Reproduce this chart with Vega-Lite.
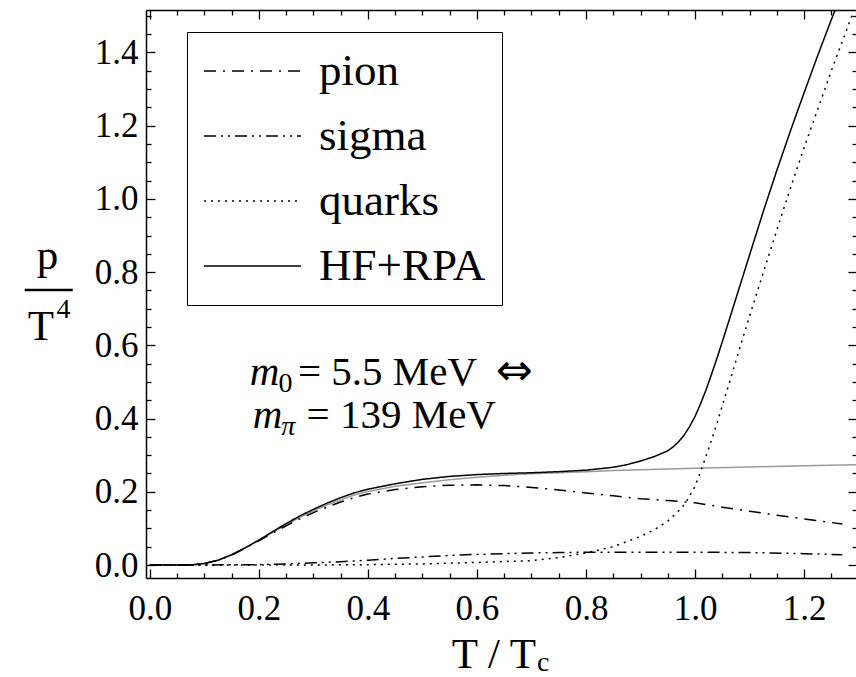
{
  "$schema": "https://vega.github.io/schema/vega-lite/v6.json",
  "width": 711,
  "height": 568,
  "autosize": {"type": "none"},
  "padding": {"left": 146, "top": 10, "right": 0, "bottom": 99},
  "background": "white",
  "config": {"view": {"stroke": null}, "axis": {"grid": false}, "font": "Liberation Serif"},
  "datasets": {
    "curves": [
      {"T": 0, "p": 0, "series": "HF+RPA"}, {"T": 0.05, "p": 0, "series": "HF+RPA"}, {"T": 0.08, "p": 0.001, "series": "HF+RPA"}, {"T": 0.1, "p": 0.004, "series": "HF+RPA"}, {"T": 0.125, "p": 0.013, "series": "HF+RPA"}, {"T": 0.15, "p": 0.028, "series": "HF+RPA"}, {"T": 0.175, "p": 0.047, "series": "HF+RPA"}, {"T": 0.2, "p": 0.068, "series": "HF+RPA"}, {"T": 0.225, "p": 0.091, "series": "HF+RPA"}, {"T": 0.25, "p": 0.113, "series": "HF+RPA"}, {"T": 0.275, "p": 0.134, "series": "HF+RPA"}, {"T": 0.3, "p": 0.152, "series": "HF+RPA"}, {"T": 0.325, "p": 0.169, "series": "HF+RPA"}, {"T": 0.35, "p": 0.184, "series": "HF+RPA"}, {"T": 0.375, "p": 0.197, "series": "HF+RPA"}, {"T": 0.4, "p": 0.207, "series": "HF+RPA"}, {"T": 0.45, "p": 0.222, "series": "HF+RPA"}, {"T": 0.5, "p": 0.234, "series": "HF+RPA"}, {"T": 0.55, "p": 0.242, "series": "HF+RPA"}, {"T": 0.6, "p": 0.247, "series": "HF+RPA"}, {"T": 0.65, "p": 0.25, "series": "HF+RPA"}, {"T": 0.7, "p": 0.252, "series": "HF+RPA"}, {"T": 0.75, "p": 0.255, "series": "HF+RPA"}, {"T": 0.8, "p": 0.259, "series": "HF+RPA"}, {"T": 0.85, "p": 0.267, "series": "HF+RPA"}, {"T": 0.875, "p": 0.274, "series": "HF+RPA"}, {"T": 0.9, "p": 0.284, "series": "HF+RPA"}, {"T": 0.925, "p": 0.296, "series": "HF+RPA"}, {"T": 0.95, "p": 0.312, "series": "HF+RPA"}, {"T": 0.96, "p": 0.323, "series": "HF+RPA"}, {"T": 0.97, "p": 0.337, "series": "HF+RPA"}, {"T": 0.98, "p": 0.355, "series": "HF+RPA"}, {"T": 0.99, "p": 0.378, "series": "HF+RPA"}, {"T": 1.0, "p": 0.406, "series": "HF+RPA"}, {"T": 1.01, "p": 0.44, "series": "HF+RPA"}, {"T": 1.02, "p": 0.478, "series": "HF+RPA"}, {"T": 1.03, "p": 0.52, "series": "HF+RPA"}, {"T": 1.04, "p": 0.564, "series": "HF+RPA"}, {"T": 1.05, "p": 0.61, "series": "HF+RPA"}, {"T": 1.06, "p": 0.657, "series": "HF+RPA"}, {"T": 1.08, "p": 0.752, "series": "HF+RPA"}, {"T": 1.1, "p": 0.847, "series": "HF+RPA"}, {"T": 1.125, "p": 0.965, "series": "HF+RPA"}, {"T": 1.15, "p": 1.078, "series": "HF+RPA"}, {"T": 1.175, "p": 1.186, "series": "HF+RPA"}, {"T": 1.2, "p": 1.29, "series": "HF+RPA"}, {"T": 1.225, "p": 1.392, "series": "HF+RPA"}, {"T": 1.25, "p": 1.49, "series": "HF+RPA"}, {"T": 1.257, "p": 1.516, "series": "HF+RPA"},

      {"T": 0, "p": 0, "series": "pion"}, {"T": 0.05, "p": 0, "series": "pion"}, {"T": 0.08, "p": 0.001, "series": "pion"}, {"T": 0.1, "p": 0.004, "series": "pion"}, {"T": 0.125, "p": 0.013, "series": "pion"}, {"T": 0.15, "p": 0.027, "series": "pion"}, {"T": 0.175, "p": 0.046, "series": "pion"}, {"T": 0.2, "p": 0.066, "series": "pion"}, {"T": 0.225, "p": 0.087, "series": "pion"}, {"T": 0.25, "p": 0.107, "series": "pion"}, {"T": 0.275, "p": 0.126, "series": "pion"}, {"T": 0.3, "p": 0.143, "series": "pion"}, {"T": 0.325, "p": 0.158, "series": "pion"}, {"T": 0.35, "p": 0.172, "series": "pion"}, {"T": 0.375, "p": 0.184, "series": "pion"}, {"T": 0.4, "p": 0.194, "series": "pion"}, {"T": 0.45, "p": 0.206, "series": "pion"}, {"T": 0.5, "p": 0.214, "series": "pion"}, {"T": 0.55, "p": 0.218, "series": "pion"}, {"T": 0.6, "p": 0.219, "series": "pion"}, {"T": 0.65, "p": 0.217, "series": "pion"}, {"T": 0.7, "p": 0.212, "series": "pion"}, {"T": 0.75, "p": 0.205, "series": "pion"}, {"T": 0.8, "p": 0.197, "series": "pion"}, {"T": 0.85, "p": 0.189, "series": "pion"}, {"T": 0.9, "p": 0.181, "series": "pion"}, {"T": 0.95, "p": 0.176, "series": "pion"}, {"T": 1.0, "p": 0.17, "series": "pion"}, {"T": 1.05, "p": 0.158, "series": "pion"}, {"T": 1.1, "p": 0.147, "series": "pion"}, {"T": 1.15, "p": 0.136, "series": "pion"}, {"T": 1.2, "p": 0.126, "series": "pion"}, {"T": 1.27, "p": 0.112, "series": "pion"},

      {"T": 0, "p": 0, "series": "sigma"}, {"T": 0.1, "p": 0, "series": "sigma"}, {"T": 0.15, "p": 0.0005, "series": "sigma"}, {"T": 0.2, "p": 0.001, "series": "sigma"}, {"T": 0.25, "p": 0.003, "series": "sigma"}, {"T": 0.3, "p": 0.006, "series": "sigma"}, {"T": 0.35, "p": 0.009, "series": "sigma"}, {"T": 0.4, "p": 0.013, "series": "sigma"}, {"T": 0.45, "p": 0.018, "series": "sigma"}, {"T": 0.5, "p": 0.022, "series": "sigma"}, {"T": 0.55, "p": 0.026, "series": "sigma"}, {"T": 0.6, "p": 0.029, "series": "sigma"}, {"T": 0.65, "p": 0.031, "series": "sigma"}, {"T": 0.7, "p": 0.033, "series": "sigma"}, {"T": 0.75, "p": 0.034, "series": "sigma"}, {"T": 0.8, "p": 0.035, "series": "sigma"}, {"T": 0.9, "p": 0.035, "series": "sigma"}, {"T": 1.0, "p": 0.035, "series": "sigma"}, {"T": 1.1, "p": 0.034, "series": "sigma"}, {"T": 1.2, "p": 0.031, "series": "sigma"}, {"T": 1.27, "p": 0.028, "series": "sigma"},

      {"T": 0, "p": 0, "series": "quarks"}, {"T": 0.3, "p": 0, "series": "quarks"}, {"T": 0.4, "p": 0.001, "series": "quarks"}, {"T": 0.5, "p": 0.003, "series": "quarks"}, {"T": 0.6, "p": 0.007, "series": "quarks"}, {"T": 0.7, "p": 0.012, "series": "quarks"}, {"T": 0.75, "p": 0.02, "series": "quarks"}, {"T": 0.8, "p": 0.033, "series": "quarks"}, {"T": 0.85, "p": 0.05, "series": "quarks"}, {"T": 0.9, "p": 0.078, "series": "quarks"}, {"T": 0.925, "p": 0.096, "series": "quarks"}, {"T": 0.95, "p": 0.12, "series": "quarks"}, {"T": 0.96, "p": 0.134, "series": "quarks"}, {"T": 0.975, "p": 0.155, "series": "quarks"}, {"T": 0.985, "p": 0.176, "series": "quarks"}, {"T": 1.0, "p": 0.215, "series": "quarks"}, {"T": 1.012, "p": 0.263, "series": "quarks"}, {"T": 1.025, "p": 0.318, "series": "quarks"}, {"T": 1.04, "p": 0.386, "series": "quarks"}, {"T": 1.05, "p": 0.435, "series": "quarks"}, {"T": 1.065, "p": 0.508, "series": "quarks"}, {"T": 1.08, "p": 0.583, "series": "quarks"}, {"T": 1.1, "p": 0.68, "series": "quarks"}, {"T": 1.125, "p": 0.798, "series": "quarks"}, {"T": 1.15, "p": 0.915, "series": "quarks"}, {"T": 1.175, "p": 1.03, "series": "quarks"}, {"T": 1.2, "p": 1.14, "series": "quarks"}, {"T": 1.225, "p": 1.245, "series": "quarks"}, {"T": 1.25, "p": 1.35, "series": "quarks"}, {"T": 1.275, "p": 1.45, "series": "quarks"}, {"T": 1.29, "p": 1.51, "series": "quarks"}
    ],
    "gray": [
      {"T": 0, "p": 0}, {"T": 0.05, "p": 0}, {"T": 0.08, "p": 0.001}, {"T": 0.1, "p": 0.004}, {"T": 0.125, "p": 0.013}, {"T": 0.15, "p": 0.028}, {"T": 0.175, "p": 0.047}, {"T": 0.2, "p": 0.067}, {"T": 0.225, "p": 0.089}, {"T": 0.25, "p": 0.11}, {"T": 0.275, "p": 0.13}, {"T": 0.3, "p": 0.148}, {"T": 0.325, "p": 0.164}, {"T": 0.35, "p": 0.178}, {"T": 0.375, "p": 0.191}, {"T": 0.4, "p": 0.201}, {"T": 0.45, "p": 0.215}, {"T": 0.5, "p": 0.225}, {"T": 0.55, "p": 0.233}, {"T": 0.6, "p": 0.24}, {"T": 0.65, "p": 0.245}, {"T": 0.7, "p": 0.249}, {"T": 0.75, "p": 0.252}, {"T": 0.8, "p": 0.255}, {"T": 0.85, "p": 0.258}, {"T": 0.9, "p": 0.26}, {"T": 1.0, "p": 0.264}, {"T": 1.1, "p": 0.268}, {"T": 1.2, "p": 0.271}, {"T": 1.297, "p": 0.274}
    ],
    "bar": [{"x1": -0.2294, "x2": -0.1413, "y": 0.7514}],
    "labels": [
      {"text": "m", "x": 0.1835, "y": 0.4918, "kind": "italic"},
      {"text": "0", "x": 0.236, "y": 0.4727, "kind": "sub"},
      {"text": "= 5.5 MeV", "x": 0.2716, "y": 0.4918, "kind": "main"},
      {"text": "⇔", "x": 0.635, "y": 0.4918, "kind": "arrow"},
      {"text": "m", "x": 0.189, "y": 0.373, "kind": "italic"},
      {"text": "π", "x": 0.241, "y": 0.355, "kind": "subitalic"},
      {"text": "= 139 MeV", "x": 0.2875, "y": 0.373, "kind": "main"},
      {"text": "T / T", "x": 0.5536, "y": -0.2814, "kind": "title"},
      {"text": "c", "x": 0.71, "y": -0.2895, "kind": "sub"},
      {"text": "p", "x": -0.2073, "y": 0.8087, "kind": "title"},
      {"text": "T", "x": -0.2239, "y": 0.6148, "kind": "title"},
      {"text": "4", "x": -0.171, "y": 0.6749, "kind": "sub"}
    ]
  },
  "layer": [
    {
      "data": {"name": "gray"},
      "mark": {"type": "line", "color": "#9a9a9a", "strokeWidth": 1.5, "clip": true},
      "encoding": {
        "x": {"field": "T", "type": "quantitative", "scale": {"domain": [-0.007, 1.297], "nice": false, "zero": false},
          "axis": {"orient": "top", "title": null, "labels": false, "values": [0,0.05,0.1,0.15,0.2,0.25,0.3,0.35,0.4,0.45,0.5,0.55,0.6,0.65,0.7,0.75,0.8,0.85,0.9,0.95,1,1.05,1.1,1.15,1.2,1.25],
            "tickSize": {"condition": {"test": "abs(datum.value*5 - round(datum.value*5)) < 0.001", "value": -9}, "value": -5},
            "tickColor": "black", "tickWidth": 1.3, "domainColor": "black", "domainWidth": 1.5, "grid": false}},
        "y": {"field": "p", "type": "quantitative", "scale": {"domain": [-0.0355, 1.516], "nice": false, "zero": false},
          "axis": {"orient": "right", "title": null, "labels": false, "values": [0,0.05,0.1,0.15,0.2,0.25,0.3,0.35,0.4,0.45,0.5,0.55,0.6,0.65,0.7,0.75,0.8,0.85,0.9,0.95,1,1.05,1.1,1.15,1.2,1.25,1.3,1.35,1.4,1.45,1.5],
            "tickSize": {"condition": {"test": "abs(datum.value*5 - round(datum.value*5)) < 0.001", "value": -9}, "value": -5},
            "tickColor": "black", "tickWidth": 1.3, "domainColor": "black", "domainWidth": 1.5, "grid": false}}
      }
    },
    {
      "data": {"name": "curves"},
      "mark": {"type": "line", "strokeWidth": 1.5, "clip": true, "color": "black"},
      "encoding": {
        "x": {"field": "T", "type": "quantitative", "scale": {"domain": [-0.007, 1.297], "nice": false, "zero": false},
          "axis": {"orient": "bottom", "title": null, "values": [0,0.05,0.1,0.15,0.2,0.25,0.3,0.35,0.4,0.45,0.5,0.55,0.6,0.65,0.7,0.75,0.8,0.85,0.9,0.95,1,1.05,1.1,1.15,1.2,1.25],
            "labelExpr": "abs(datum.value*5 - round(datum.value*5)) < 0.001 ? format(datum.value, '.1f') : ''",
            "tickSize": {"condition": {"test": "abs(datum.value*5 - round(datum.value*5)) < 0.001", "value": -9}, "value": -5},
            "tickColor": "black", "tickWidth": 1.3, "domainColor": "black", "domainWidth": 1.5, "grid": false,
            "labelFont": "Liberation Serif", "labelFontSize": 35, "labelColor": "black", "labelPadding": 22, "labelFlush": false, "labelOverlap": false}},
        "y": {"field": "p", "type": "quantitative", "scale": {"domain": [-0.0355, 1.516], "nice": false, "zero": false},
          "axis": {"orient": "left", "title": null, "values": [0,0.05,0.1,0.15,0.2,0.25,0.3,0.35,0.4,0.45,0.5,0.55,0.6,0.65,0.7,0.75,0.8,0.85,0.9,0.95,1,1.05,1.1,1.15,1.2,1.25,1.3,1.35,1.4,1.45,1.5],
            "labelExpr": "abs(datum.value*5 - round(datum.value*5)) < 0.001 ? format(datum.value, '.1f') : ''",
            "tickSize": {"condition": {"test": "abs(datum.value*5 - round(datum.value*5)) < 0.001", "value": -9}, "value": -5},
            "tickColor": "black", "tickWidth": 1.3, "domainColor": "black", "domainWidth": 1.5, "grid": false,
            "labelFont": "Liberation Serif", "labelFontSize": 35, "labelColor": "black", "labelPadding": 17, "labelFlush": false, "labelOverlap": false}},
        "strokeDash": {"field": "series", "type": "nominal",
          "scale": {"domain": ["pion", "sigma", "quarks", "HF+RPA"], "range": [[12, 7, 2, 7], [12, 5, 2, 5, 2, 5], [2, 5], [1, 0]]},
          "legend": {"title": null, "orient": "none", "legendX": 41, "legendY": 22, "strokeColor": "black", "fillColor": "white", "padding": 16,
            "symbolType": "stroke", "symbolSize": 9409, "symbolStrokeWidth": 1.5, "symbolStrokeColor": "black",
            "labelFont": "Liberation Serif", "labelFontSize": 45, "labelColor": "black", "labelOffset": 17, "labelLimit": 400, "clipHeight": 46, "rowPadding": 19}}
      }
    },
    {
      "data": {"name": "bar"},
      "mark": {"type": "rule", "strokeWidth": 2.5, "color": "black"},
      "encoding": {
        "x": {"field": "x1", "type": "quantitative", "scale": {"domain": [-0.007, 1.297], "nice": false, "zero": false}, "axis": null},
        "x2": {"field": "x2"},
        "y": {"field": "y", "type": "quantitative", "scale": {"domain": [-0.0355, 1.516], "nice": false, "zero": false}, "axis": null}
      }
    },
    {
      "data": {"name": "labels"},
      "transform": [{"filter": "datum.kind == 'main'"}],
      "mark": {"type": "text", "align": "left", "baseline": "alphabetic", "font": "Liberation Serif", "fontSize": 41, "color": "black"},
      "encoding": {
        "x": {"field": "x", "type": "quantitative", "scale": {"domain": [-0.007, 1.297], "nice": false, "zero": false}, "axis": null},
        "y": {"field": "y", "type": "quantitative", "scale": {"domain": [-0.0355, 1.516], "nice": false, "zero": false}, "axis": null},
        "text": {"field": "text"}
      }
    },
    {
      "data": {"name": "labels"},
      "transform": [{"filter": "datum.kind == 'arrow'"}],
      "mark": {"type": "text", "align": "left", "baseline": "alphabetic", "font": "DejaVu Sans", "fontSize": 44, "color": "black"},
      "encoding": {
        "x": {"field": "x", "type": "quantitative", "scale": {"domain": [-0.007, 1.297], "nice": false, "zero": false}, "axis": null},
        "y": {"field": "y", "type": "quantitative", "scale": {"domain": [-0.0355, 1.516], "nice": false, "zero": false}, "axis": null},
        "text": {"field": "text"}
      }
    },
    {
      "data": {"name": "labels"},
      "transform": [{"filter": "datum.kind == 'italic'"}],
      "mark": {"type": "text", "align": "left", "baseline": "alphabetic", "font": "Liberation Serif", "fontStyle": "italic", "fontSize": 41, "color": "black"},
      "encoding": {
        "x": {"field": "x", "type": "quantitative", "scale": {"domain": [-0.007, 1.297], "nice": false, "zero": false}, "axis": null},
        "y": {"field": "y", "type": "quantitative", "scale": {"domain": [-0.0355, 1.516], "nice": false, "zero": false}, "axis": null},
        "text": {"field": "text"}
      }
    },
    {
      "data": {"name": "labels"},
      "transform": [{"filter": "datum.kind == 'sub'"}],
      "mark": {"type": "text", "align": "left", "baseline": "alphabetic", "font": "Liberation Serif", "fontSize": 28, "color": "black"},
      "encoding": {
        "x": {"field": "x", "type": "quantitative", "scale": {"domain": [-0.007, 1.297], "nice": false, "zero": false}, "axis": null},
        "y": {"field": "y", "type": "quantitative", "scale": {"domain": [-0.0355, 1.516], "nice": false, "zero": false}, "axis": null},
        "text": {"field": "text"}
      }
    },
    {
      "data": {"name": "labels"},
      "transform": [{"filter": "datum.kind == 'subitalic'"}],
      "mark": {"type": "text", "align": "left", "baseline": "alphabetic", "font": "Liberation Serif", "fontStyle": "italic", "fontSize": 28, "color": "black"},
      "encoding": {
        "x": {"field": "x", "type": "quantitative", "scale": {"domain": [-0.007, 1.297], "nice": false, "zero": false}, "axis": null},
        "y": {"field": "y", "type": "quantitative", "scale": {"domain": [-0.0355, 1.516], "nice": false, "zero": false}, "axis": null},
        "text": {"field": "text"}
      }
    },
    {
      "data": {"name": "labels"},
      "transform": [{"filter": "datum.kind == 'title'"}],
      "mark": {"type": "text", "align": "left", "baseline": "alphabetic", "font": "Liberation Serif", "fontSize": 43, "color": "black"},
      "encoding": {
        "x": {"field": "x", "type": "quantitative", "scale": {"domain": [-0.007, 1.297], "nice": false, "zero": false}, "axis": null},
        "y": {"field": "y", "type": "quantitative", "scale": {"domain": [-0.0355, 1.516], "nice": false, "zero": false}, "axis": null},
        "text": {"field": "text"}
      }
    }
  ],
  "resolve": {"axis": {"x": "independent", "y": "independent"}}
}
